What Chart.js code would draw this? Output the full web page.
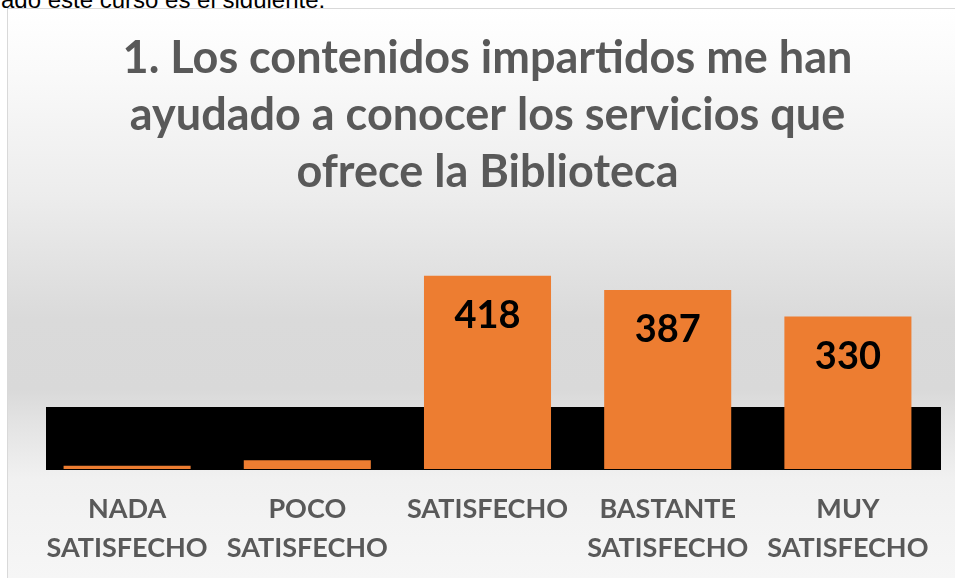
<!DOCTYPE html>
<html>
<head>
<meta charset="utf-8">
<script src="https://cdn.jsdelivr.net/npm/chart.js@4/dist/chart.umd.min.js"></script>
<style>
  html, body { margin: 0; padding: 0; width: 955px; height: 578px; overflow: hidden; background: #fff; }
  #doc { position: absolute; left: 1px; top: -12px; font-family: "Liberation Sans", Arial, sans-serif; font-size: 24px; line-height: 24px; color: #000; white-space: nowrap; }
  #frame { position: absolute; left: 7px; top: 8px; width: 980px; height: 600px; border: 1px solid #d9d9d9;
    background: linear-gradient(to bottom, #ffffff 0px, #fafafa 60px, #ececec 190px, #dadada 310px, #d9d9d9 380px, #e2e2e2 410px, #f1f1f1 470px, #f6f6f6 570px); }
  #wrap { position: absolute; left: 0; top: 0; width: 955px; height: 578px; }
</style>
</head>
<body>
<div id="doc">ado este curso es el siguiente:</div>
<div id="frame"></div>
<div id="wrap"><canvas id="c"></canvas></div>
<script>
const titleLines = ["1. Los contenidos impartidos me han", "ayudado a conocer los servicios que", "ofrece la Biblioteca"];
const categories = [["NADA", "SATISFECHO"], ["POCO", "SATISFECHO"], "SATISFECHO", ["BASTANTE", "SATISFECHO"], ["MUY", "SATISFECHO"]];
const values = [7, 19, 418, 387, 330];

const bandPlugin = {
  id: 'band',
  beforeDatasetsDraw(chart) {
    const { ctx, chartArea } = chart;
    ctx.save();
    ctx.fillStyle = '#000000';
    ctx.fillRect(chartArea.left + 9, chartArea.bottom - 62, chartArea.right - chartArea.left - 6, 63);
    ctx.restore();
  }
};

const labelPlugin = {
  id: 'valueLabels',
  afterDatasetsDraw(chart) {
    const { ctx } = chart;
    const meta = chart.getDatasetMeta(0);
    ctx.save();
    ctx.font = 'bold 38px Lato, "Open Sans", sans-serif';
    ctx.fillStyle = '#000000';
    ctx.textAlign = 'center';
    ctx.textBaseline = 'middle';
    meta.data.forEach((bar, i) => {
      if (values[i] < 50) return;
      ctx.fillText(String(values[i]), bar.x, bar.y + 40);
    });
    ctx.restore();
  }
};

new Chart(document.getElementById('c'), {
  type: 'bar',
  data: {
    labels: categories,
    datasets: [{
      data: values,
      backgroundColor: '#ED7D31',
      borderWidth: 0,
      categoryPercentage: 1.0,
      barPercentage: 0.705
    }]
  },
  options: {
    responsive: true,
    maintainAspectRatio: false,
    animation: false,
    layout: { padding: { left: 37, right: 17, top: 0, bottom: 10 } },
    plugins: {
      legend: { display: false },
      tooltip: { enabled: false },
      title: {
        display: true,
        text: titleLines,
        color: '#595959',
        font: { family: 'Lato, "Open Sans", sans-serif', size: 45, weight: 'bold', lineHeight: '57px' },
        padding: { top: 30, bottom: 9 }
      }
    },
    scales: {
      x: {
        grid: { display: false, drawTicks: false },
        border: { display: false },
        afterFit(scale) { scale.height = 99; },
        ticks: {
          color: '#595959',
          padding: 21,
          maxRotation: 0,
          autoSkip: false,
          font: { family: 'Lato, "Open Sans", sans-serif', size: 27, weight: 'bold', lineHeight: 1.44 }
        }
      },
      y: {
        display: false,
        min: 0,
        max: 560
      }
    }
  },
  plugins: [bandPlugin, labelPlugin]
});
</script>
</body>
</html>
